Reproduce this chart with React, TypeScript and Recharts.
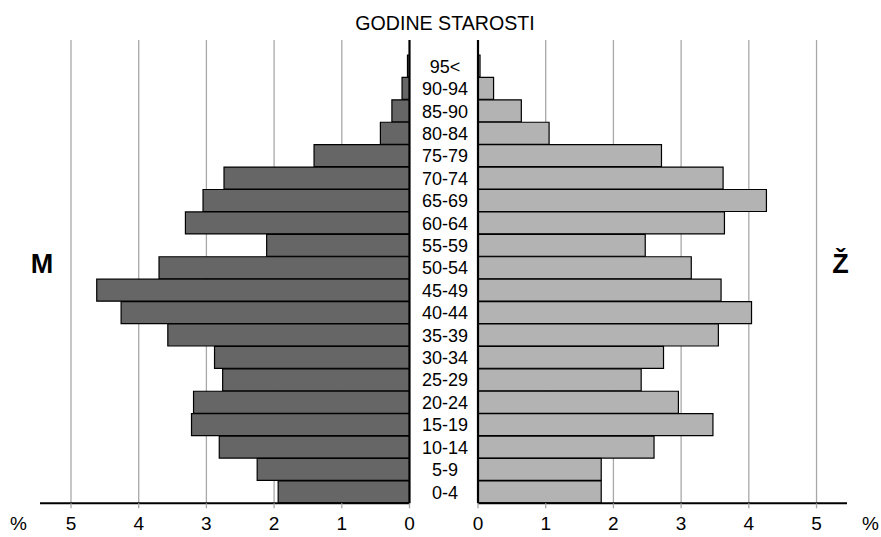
import React from 'react';
import { BarChart, Bar, XAxis, YAxis, CartesianGrid, ReferenceLine } from 'recharts';

const ages = ['95<', '90-94', '85-90', '80-84', '75-79', '70-74', '65-69', '60-64', '55-59', '50-54', '45-49', '40-44', '35-39', '30-34', '25-29', '20-24', '15-19', '10-14', '5-9', '0-4'];
const male = [0.03, 0.11, 0.26, 0.43, 1.41, 2.74, 3.05, 3.31, 2.11, 3.70, 4.62, 4.26, 3.57, 2.88, 2.76, 3.19, 3.22, 2.81, 2.25, 1.94];
const female = [0.03, 0.23, 0.64, 1.05, 2.71, 3.62, 4.26, 3.64, 2.47, 3.15, 3.59, 4.04, 3.55, 2.74, 2.41, 2.96, 3.47, 2.60, 1.82, 1.82];
const xTicks = [0, 1, 2, 3, 4, 5];
const gridValues = [1, 2, 3, 4, 5];

const data = ages.map((age, i) => ({ age, male: male[i], female: female[i] }));

const W = 881;
const H = 537;
const FONT = '"Liberation Sans", Arial, Helvetica, sans-serif';
const AXIS_H = 33.7;

const AgeTick = (props: any) => {
  const { x, y, payload } = props;
  return (
    <text x={x + 35.5} y={y} textAnchor="middle" dy="0.36em" fontSize={18} fontFamily={FONT} fill="#000">
      {payload.value}
    </text>
  );
};

const tickStyle = { fontSize: 19, fill: '#000', fontFamily: FONT };

export default function App() {
  return (
    <div style={{ position: 'absolute', left: 0, top: 0, width: W, height: H, background: '#fff' }}>
      <div style={{ position: 'absolute', left: 0, top: 0 }}>
        <BarChart
          width={W}
          height={H}
          data={data}
          layout="vertical"
          barCategoryGap={0}
          margin={{ top: 40, right: 403, bottom: 0, left: 40 }}
        >
          <CartesianGrid horizontal={false} verticalValues={gridValues} stroke="#a8a8a8" strokeWidth={1.3} />
          <XAxis
            type="number"
            domain={[0, 5.458]}
            reversed
            ticks={xTicks}
            allowDataOverflow
            height={AXIS_H}
            tickSize={5}
            tickMargin={8}
            axisLine={{ stroke: '#000', strokeWidth: 2 }}
            tickLine={{ stroke: '#a8a8a8', strokeWidth: 1.3 }}
            tick={tickStyle}
          />
          <YAxis
            type="category"
            dataKey="age"
            orientation="right"
            width={68.5}
            padding={{ top: 15, bottom: 0 }}
            axisLine={false}
            tickLine={false}
            tickSize={0}
            tickMargin={0}
            interval={0}
            tick={<AgeTick />}
          />
          <Bar dataKey="male" fill="#666666" stroke="#000" strokeWidth={1.2} isAnimationActive={false} />
          <ReferenceLine x={0} stroke="#000" strokeWidth={2.2} />
        </BarChart>
      </div>
      <div style={{ position: 'absolute', left: 0, top: 0 }}>
        <BarChart
          width={W}
          height={H}
          data={data}
          layout="vertical"
          barCategoryGap={0}
          margin={{ top: 40, right: 34, bottom: 0, left: 478 }}
        >
          <CartesianGrid horizontal={false} verticalValues={gridValues} stroke="#a8a8a8" strokeWidth={1.3} />
          <XAxis
            type="number"
            domain={[0, 5.45]}
            ticks={xTicks}
            allowDataOverflow
            height={AXIS_H}
            tickSize={5}
            tickMargin={8}
            axisLine={{ stroke: '#000', strokeWidth: 2 }}
            tickLine={{ stroke: '#a8a8a8', strokeWidth: 1.3 }}
            tick={tickStyle}
          />
          <YAxis type="category" dataKey="age" hide padding={{ top: 15, bottom: 0 }} />
          <Bar dataKey="female" fill="#b3b3b3" stroke="#000" strokeWidth={1.2} isAnimationActive={false} />
          <ReferenceLine x={0} stroke="#000" strokeWidth={2.2} />
        </BarChart>
      </div>
      <svg
        width={W}
        height={H}
        style={{ position: 'absolute', left: 0, top: 0, pointerEvents: 'none' }}
        fontFamily={FONT}
      >
        <text x={445} y={30} textAnchor="middle" fontSize={19.6} fill="#000">GODINE STAROSTI</text>
        <text x={42} y={272.5} textAnchor="middle" fontSize={27} fontWeight="bold" fill="#000">M</text>
        <text x={840.5} y={272.5} textAnchor="middle" fontSize={27} fontWeight="bold" fill="#000">Ž</text>
        <text x={18.5} y={530} textAnchor="middle" fontSize={19} fill="#000">%</text>
        <text x={870.5} y={530} textAnchor="middle" fontSize={19} fill="#000">%</text>
      </svg>
    </div>
  );
}
